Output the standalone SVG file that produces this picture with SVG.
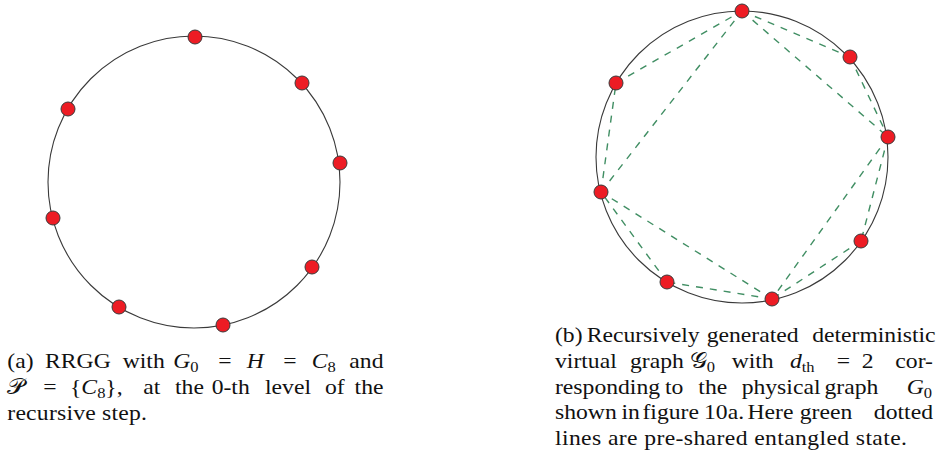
<svg xmlns="http://www.w3.org/2000/svg" width="938" height="457" viewBox="0 0 938 457">
<style>
.ring{fill:none;stroke:#3a3a3a;stroke-width:1.1}
.node{fill:#ed1c24;stroke:#3a3a3a;stroke-width:1}
.ent{stroke:#1f7a48;stroke-width:1.4;stroke-dasharray:7 7;stroke-opacity:0.85;fill:none}
.cap{font-family:"Liberation Serif","DejaVu Serif",serif;font-size:21.5px;fill:#111}
.it{font-style:italic}
.sub{font-size:15px}
.e{text-anchor:end}
</style>
<rect width="938" height="457" fill="#fff"/>
<g id="graph-a">
<circle class="ring" cx="194" cy="182" r="146"/>
<g id="a-n0"><circle class="node" cx="195" cy="37" r="7"/></g>
<g id="a-n1"><circle class="node" cx="302" cy="83" r="7"/></g>
<g id="a-n2"><circle class="node" cx="340" cy="163" r="7"/></g>
<g id="a-n3"><circle class="node" cx="312" cy="267" r="7"/></g>
<g id="a-n4"><circle class="node" cx="223" cy="325" r="7"/></g>
<g id="a-n5"><circle class="node" cx="119" cy="307" r="7"/></g>
<g id="a-n6"><circle class="node" cx="53" cy="218" r="7"/></g>
<g id="a-n7"><circle class="node" cx="68" cy="109" r="7"/></g>
</g>
<g id="graph-b">
<circle class="ring" cx="742" cy="157" r="146"/>
<g id="b-connectors">
<line class="ent" x1="742" y1="11" x2="850" y2="57"/>
<line class="ent" x1="850" y1="57" x2="888" y2="137"/>
<line class="ent" x1="888" y1="137" x2="861" y2="241"/>
<line class="ent" x1="861" y1="241" x2="772" y2="299"/>
<line class="ent" x1="772" y1="299" x2="667" y2="282"/>
<line class="ent" x1="667" y1="282" x2="601" y2="192"/>
<line class="ent" x1="601" y1="192" x2="616" y2="83"/>
<line class="ent" x1="616" y1="83" x2="742" y2="11"/>
<line class="ent" x1="742" y1="11" x2="888" y2="137"/>
<line class="ent" x1="888" y1="137" x2="772" y2="299"/>
<line class="ent" x1="772" y1="299" x2="601" y2="192"/>
<line class="ent" x1="601" y1="192" x2="742" y2="11"/>
</g>
<g id="b-n0"><circle class="node" cx="742" cy="11" r="7"/></g>
<g id="b-n1"><circle class="node" cx="850" cy="57" r="7"/></g>
<g id="b-n2"><circle class="node" cx="888" cy="137" r="7"/></g>
<g id="b-n3"><circle class="node" cx="861" cy="241" r="7"/></g>
<g id="b-n4"><circle class="node" cx="772" cy="299" r="7"/></g>
<g id="b-n5"><circle class="node" cx="667" cy="282" r="7"/></g>
<g id="b-n6"><circle class="node" cx="601" cy="192" r="7"/></g>
<g id="b-n7"><circle class="node" cx="616" cy="83" r="7"/></g>
</g>
<g id="caption-a" class="cap" transform="matrix(1.1 0 0 1 7.3 0)">
<text y="368"><tspan x="0">(a)</tspan><tspan x="34.3">RRGG</tspan><tspan x="104.9">with</tspan><tspan x="150.9" class="it">G</tspan><tspan class="sub" dy="4">0</tspan><tspan x="191.8" dy="-4">=</tspan><tspan x="217.6" class="it">H</tspan><tspan x="250.9">=</tspan><tspan x="276.7" class="it">C</tspan><tspan class="sub" dy="4">8</tspan></text>
<text y="368" x="342" class="e">and</text>
<text y="394"><tspan x="0">𝒫</tspan><tspan x="32.7">=</tspan><tspan x="57">{</tspan><tspan class="it">C</tspan><tspan class="sub" dy="4">8</tspan><tspan dy="-4">},</tspan><tspan x="123.6">at</tspan><tspan x="152.5">the</tspan><tspan x="185.8">0-th</tspan><tspan x="234.3">level</tspan><tspan x="288.8">of</tspan></text>
<text y="394" x="342" class="e">the</text>
<text y="420" x="0" textLength="127" lengthAdjust="spacing">recursive step.</text>
</g>
<g id="caption-b" class="cap" transform="matrix(1.1 0 0 1 555 0)">
<text y="342"><tspan x="0">(b)</tspan><tspan x="28.8">Recursively</tspan><tspan x="137.9">generated</tspan></text>
<text y="342" x="346" class="e">deterministic</text>
<text y="368"><tspan x="0">virtual</tspan><tspan x="68.2">graph</tspan><tspan x="122.7">𝒢</tspan><tspan class="sub" dy="4">0</tspan><tspan x="160.6" dy="-4">with</tspan><tspan x="213.6" class="it">d</tspan><tspan class="sub" dy="4">th</tspan><tspan x="256.1" dy="-4">=</tspan><tspan x="278.8">2</tspan></text>
<text y="368" x="343.6" class="e">cor-</text>
<text y="394"><tspan x="0">responding</tspan><tspan x="100">to</tspan><tspan x="130.3">the</tspan><tspan x="169.7">physical</tspan><tspan x="245">graph</tspan><tspan x="319.7" class="it">G</tspan><tspan class="sub" dy="4">0</tspan></text>
<text y="419"><tspan x="0">shown</tspan><tspan x="60.5">in</tspan><tspan x="79.5">figure</tspan><tspan x="135.5">10a.</tspan><tspan x="175">Here</tspan><tspan x="222.5">green</tspan></text>
<text y="419" x="343.6" class="e">dotted</text>
<text y="445" x="0" textLength="320" lengthAdjust="spacing">lines are pre-shared entangled state.</text>
</g>
</svg>
